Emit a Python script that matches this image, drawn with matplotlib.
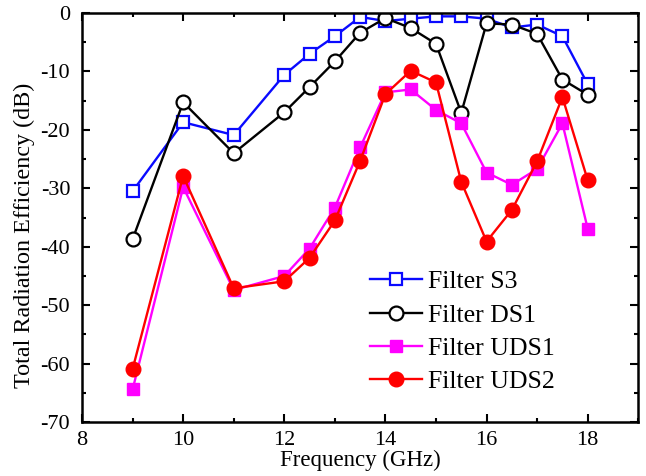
import numpy as np
import matplotlib
matplotlib.use("Agg")
from matplotlib import pyplot as plt
from matplotlib.ticker import MultipleLocator

plt.rcParams['font.family'] = ['Liberation Serif', 'DejaVu Serif']
plt.rcParams['axes.unicode_minus'] = False

freq = [9, 10, 11, 12, 12.5, 13, 13.5, 14, 14.5, 15, 15.5, 16, 16.5, 17, 17.5, 18]

s3 = [-30.5, -18.7, -20.9, -10.6, -7.0, -4.0, -0.7, -1.4, -1.0, -0.6, -0.6, -1.0, -2.5, -2.0, -4.0, -12.2]
ds1 = [-38.7, -15.3, -24.0, -17.0, -12.7, -8.3, -3.4, -0.9, -2.6, -5.3, -17.1, -1.8, -2.0, -3.6, -11.4, -14.0]
uds1 = [-64.4, -29.8, -47.4, -45.0, -40.3, -33.3, -23.0, -13.6, -13.1, -16.6, -18.9, -27.3, -29.4, -26.7, -18.9, -36.9]
uds2 = [-60.9, -27.9, -47.1, -45.9, -41.9, -35.5, -25.3, -13.9, -9.9, -11.9, -28.9, -39.1, -33.7, -25.4, -14.4, -28.6]

fig = plt.figure(figsize=(6.46, 4.76), dpi=100)
ax = fig.add_axes([0.127, 0.113, 0.861, 0.86])

ax.plot(freq, s3, color='#0a0aff', lw=1.7, marker='s', ms=9, mfc='white', mec='#0a0aff', mew=1.6, label='Filter S3')
ax.plot(freq, ds1, color='black', lw=1.7, marker='o', ms=10, mfc='white', mec='black', mew=1.6, label='Filter DS1')
ax.plot(freq, uds1, color='#ff00ff', lw=1.7, marker='s', ms=9, label='Filter UDS1')
ax.plot(freq, uds2, color='#ff0000', lw=1.7, marker='o', ms=10.5, label='Filter UDS2')

ax.set_xlim(8, 19)
ax.set_ylim(-70, 0)
ax.xaxis.set_major_locator(MultipleLocator(2))
ax.xaxis.set_minor_locator(MultipleLocator(1))
ax.yaxis.set_major_locator(MultipleLocator(10))
ax.yaxis.set_minor_locator(MultipleLocator(5))
ax.tick_params(which='both', direction='in', top=True, right=True, width=1.5, labelsize=16)
ax.tick_params(which='major', length=6)
ax.tick_params(which='minor', length=3)
ax.tick_params(axis='y', pad=8.5)
ax.tick_params(axis='x', pad=6)
for sp in ax.spines.values():
    sp.set_linewidth(1.8)

ax.set_xlabel('Frequency (GHz)', fontsize=16.5, labelpad=0)
ax.set_ylabel('Total Radiation Efficiency (dB)', fontsize=17.4)
ax.yaxis.set_label_coords(-0.085, 0.457)

ax.legend(loc='lower left', bbox_to_anchor=(0.5, 0.046), frameon=False, fontsize=18.5,
          handlelength=2.0, handletextpad=0.25, labelspacing=0.4, borderaxespad=0)

plt.savefig('out.png', dpi=100)
